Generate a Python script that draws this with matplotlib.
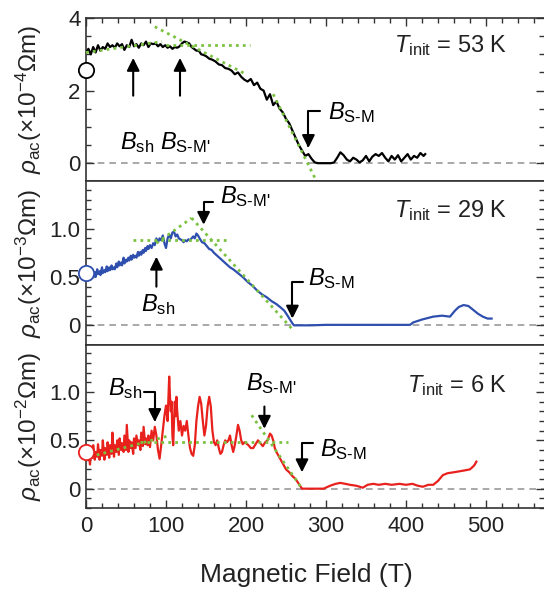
import matplotlib
matplotlib.use("Agg")
import matplotlib.pyplot as plt
from matplotlib.ticker import MultipleLocator

plt.rcParams['font.family'] = ['Liberation Sans', 'DejaVu Sans']
plt.rcParams['mathtext.fontset'] = 'custom'
plt.rcParams['mathtext.rm'] = 'Liberation Sans'
plt.rcParams['mathtext.it'] = 'Liberation Sans:italic'
plt.rcParams['mathtext.bf'] = 'Liberation Sans:bold'

# ---------------- data ----------------
field_53 = [0, 3, 6, 9, 12, 15, 18, 21, 24, 27, 30, 33, 36, 39, 42, 45, 48, 51, 54, 57,
            60, 63, 66, 69, 72, 75, 78, 81, 84, 87, 90, 93, 96, 99, 102, 105, 108, 111, 114, 117,
            120, 123, 126, 129, 132, 135, 138, 141, 144, 147, 150, 154, 158, 162, 166, 170, 174, 178, 182, 186,
            190, 194, 198, 202, 206, 210, 214, 218, 222, 226, 230, 234, 238, 242, 246, 250, 254, 258, 262, 266,
            270, 274, 278, 282, 286, 290, 294, 298, 302, 306, 310, 314, 318, 322, 326, 330, 334, 338, 342, 346,
            350, 354, 358, 362, 366, 370, 374, 378, 382, 386, 390, 394, 398, 402, 406, 410, 414, 418, 422, 424]
rho_53 = [3.05, 3.15, 3.0, 3.2, 3.05, 3.25, 3.1, 3.2, 3.15, 3.3, 3.2, 3.25, 3.18, 3.3, 3.22, 3.28, 3.12, 3.25, 3.2, 3.4,
          3.22, 3.28, 3.18, 3.3, 3.25, 3.35, 3.2, 3.3, 3.28, 3.3, 3.22, 3.28, 3.2, 3.25, 3.18, 3.22, 3.15, 3.2, 3.18, 3.22,
          3.3, 3.35, 3.33, 3.3, 3.2, 3.15, 3.1, 3.1, 3.0, 2.98, 2.95, 2.88, 2.85, 2.8, 2.72, 2.7, 2.62, 2.6, 2.55, 2.45,
          2.5, 2.38, 2.3, 2.25, 2.32, 2.15, 2.22, 2.05, 2.0, 1.75, 1.9, 1.6, 1.7, 1.5, 1.4, 1.22, 1.1, 0.9, 0.7, 0.5,
          0.35, 0.2, 0.25, 0.12, 0.02, 0.0, 0.0, 0.0, 0.0, 0.0, 0.02, 0.15, 0.3, 0.22, 0.1, 0.05, 0.15, 0.1, 0.02, 0.08,
          0.2, 0.05, 0.18, 0.25, 0.2, 0.28, 0.15, 0.05, 0.2, 0.1, 0.22, 0.05, 0.15, 0.25, 0.1, 0.2, 0.15, 0.28, 0.2, 0.25]

field_29 = [0, 2, 3, 5, 6, 8, 9, 11, 12, 14, 15, 17, 18, 20, 21, 23, 24, 26, 27, 29,
            30, 32, 33, 35, 36, 38, 39, 41, 42, 44, 45, 47, 48, 50, 51, 53, 54, 56, 57, 59,
            60, 62, 63, 65, 66, 68, 69, 71, 72, 74, 75, 77, 78, 80, 82, 84, 86, 88, 90, 92,
            94, 96, 98, 100, 102, 104, 106, 108, 110, 112, 114, 116, 118, 120, 122, 124, 126, 128, 130, 132,
            134, 136, 138, 140, 142, 145, 148, 151, 154, 157, 160, 164, 168, 172, 176, 180, 184, 190, 196, 202,
            208, 214, 220, 226, 232, 238, 244, 248, 252, 255, 258, 260, 280, 300, 340, 380, 405, 409, 420, 434,
            445, 455, 461, 466, 472, 478, 484, 490, 496, 502, 507]
rho_29 = [0.52, 0.56, 0.5, 0.55, 0.5, 0.57, 0.52, 0.55, 0.5, 0.58, 0.53, 0.56, 0.52, 0.6, 0.54, 0.57, 0.55, 0.61, 0.56, 0.6,
          0.57, 0.62, 0.58, 0.6, 0.58, 0.64, 0.6, 0.66, 0.62, 0.65, 0.62, 0.7, 0.64, 0.68, 0.66, 0.7, 0.67, 0.72, 0.68, 0.73,
          0.7, 0.72, 0.7, 0.76, 0.72, 0.76, 0.73, 0.78, 0.75, 0.8, 0.77, 0.82, 0.79, 0.83, 0.8, 0.85, 0.83, 0.9, 0.86, 0.9,
          0.88, 0.93, 0.85, 0.8, 0.9, 0.94, 0.9, 0.96, 0.97, 0.92, 0.94, 0.9, 0.89, 0.88, 0.86, 0.88, 0.87, 0.89, 0.88, 0.9,
          0.92, 0.9, 0.95, 0.93, 0.9, 0.86, 0.85, 0.82, 0.79, 0.78, 0.75, 0.72, 0.69, 0.66, 0.63, 0.6, 0.58, 0.54, 0.5, 0.45,
          0.41, 0.36, 0.32, 0.29, 0.25, 0.22, 0.18, 0.15, 0.1, 0.06, 0.02, 0.0, 0.0, 0.005, 0.005, 0.005, 0.005, 0.03, 0.06, 0.09,
          0.1, 0.09, 0.15, 0.19, 0.21, 0.2, 0.16, 0.12, 0.09, 0.07, 0.07]

field_6 = [0, 2, 3, 5, 6, 8, 9, 11, 12, 14, 15, 17, 18, 20, 21, 23, 24, 26, 27, 29,
           30, 32, 33, 35, 36, 38, 39, 41, 42, 44, 45, 47, 48, 50, 51, 53, 54, 56, 57, 59,
           60, 62, 63, 65, 66, 68, 69, 71, 72, 74, 75, 77, 78, 80, 82, 84, 86, 88, 90, 92,
           94, 96, 98, 100, 102, 104, 105, 106, 107, 108, 109, 110, 111, 112, 113, 114, 116, 118, 120, 122,
           124, 126, 128, 130, 132, 134, 136, 138, 140, 142, 144, 146, 148, 150, 152, 154, 156, 158, 160, 162,
           164, 166, 168, 170, 172, 174, 176, 178, 180, 182, 184, 186, 188, 190, 192, 194, 196, 198, 200, 203,
           206, 209, 212, 215, 218, 221, 224, 227, 230, 232, 234, 236, 238, 242, 246, 250, 254, 258, 262, 266,
           270, 280, 297, 305, 312, 318, 324, 330, 338, 346, 352, 359, 366, 374, 382, 392, 400, 408, 415, 421,
           428, 434, 440, 446, 452, 460, 467, 474, 480, 484, 486, 488]
rho_6 = [0.38, 0.3, 0.42, 0.25, 0.4, 0.32, 0.45, 0.3, 0.38, 0.33, 0.46, 0.3, 0.4, 0.34, 0.5, 0.3, 0.42, 0.35, 0.48, 0.32,
         0.45, 0.36, 0.58, 0.33, 0.45, 0.38, 0.5, 0.35, 0.52, 0.4, 0.47, 0.38, 0.55, 0.4, 0.66, 0.38, 0.5, 0.42, 0.48, 0.36,
         0.52, 0.42, 0.55, 0.45, 0.5, 0.4, 0.58, 0.44, 0.64, 0.46, 0.52, 0.45, 0.55, 0.43, 0.6, 0.5, 0.64, 0.55, 0.4, 0.31,
         0.45, 0.6, 0.75, 0.86, 0.7, 1.16, 0.95, 0.8, 0.9, 0.55, 0.45, 0.7, 0.9, 0.75, 0.95, 0.8, 0.6, 0.7, 0.55, 0.65,
         0.6, 0.7, 0.55, 0.42, 0.36, 0.34, 0.45, 0.7, 0.85, 0.95, 0.88, 0.7, 0.55, 0.65, 0.85, 0.95, 0.85, 0.6, 0.48, 0.45,
         0.5, 0.42, 0.36, 0.38, 0.45, 0.5, 0.48, 0.5, 0.55, 0.45, 0.38, 0.45, 0.55, 0.66, 0.6, 0.5, 0.46, 0.48, 0.47, 0.45,
         0.42, 0.42, 0.46, 0.5, 0.47, 0.44, 0.48, 0.5, 0.57, 0.55, 0.5, 0.42, 0.38, 0.32, 0.26, 0.2, 0.17, 0.13, 0.1, 0.05,
         0.0, 0.0, 0.0, 0.03, 0.05, 0.06, 0.05, 0.04, 0.03, 0.01, 0.04, 0.05, 0.04, 0.05, 0.04, 0.05, 0.04, 0.05, 0.03, 0.02,
         0.04, 0.04, 0.08, 0.14, 0.16, 0.17, 0.18, 0.19, 0.2, 0.23, 0.25, 0.28]

# initial values (open circles at B = 0)
rho0 = [2.56, 0.545, 0.38]

# green dotted guide lines: (x0, x1), (y0, y1) for each panel
guides_53 = [((0, 95), (3.05, 3.35)), ((100, 205), (3.25, 3.25)),
             ((86, 200), (3.76, 2.45)), ((234, 286), (1.9, -0.4))]
guides_29 = [((59, 180), (0.88, 0.88)), ((88, 132), (0.85, 1.11)),
             ((132, 259), (1.11, -0.05))]
guides_6 = [((5, 105), (0.33, 0.55)), ((67, 252), (0.48, 0.48)),
            ((207, 270), (0.76, 0.0))]

temps = ['53', '29', '6']
exponents = ['-4', '-3', '-2']
colors = ['black', '#2f4fae', '#e8211d']
green = '#7cc242'

# ---------------- figure ----------------
fig = plt.figure(figsize=(5.44, 5.91), dpi=100)
W, H = 544, 591
left, right = 86 / W, 544 / W
top, bottom = 1 - 18 / H, 1 - 508 / H
ph = (top - bottom) / 3
axes = [fig.add_axes([left, top - (i + 1) * ph, right - left, ph]) for i in range(3)]

fields = [field_53, field_29, field_6]
rhos = [rho_53, rho_29, rho_6]
guides = [guides_53, guides_29, guides_6]
ylims = [(-0.5, 4), (-0.2, 1.49), (-0.2, 1.49)]
tick_fs = 16

for i, ax in enumerate(axes):
    ax.set_xlim(0, 572.5)
    ax.set_ylim(*ylims[i])
    ax.axhline(0, color='#9a9a9a', lw=1.2, ls=(0, (4, 3)), zorder=1)
    ax.plot(fields[i], rhos[i], color=colors[i], lw=1.6, zorder=3)
    for (xs, ys) in guides[i]:
        ax.plot(xs, ys, color=green, lw=2.0, ls=(0, (1, 1.5)), zorder=4,
                clip_on=(i != 0))
    ax.plot([0], [rho0[i]], 'o', ms=11, mfc='white', mec=colors[i], mew=1.3,
            clip_on=False, zorder=6)
    ax.xaxis.set_major_locator(MultipleLocator(100))
    ax.xaxis.set_minor_locator(MultipleLocator(20))
    if i == 0:
        ax.yaxis.set_major_locator(MultipleLocator(2))
        ax.yaxis.set_minor_locator(MultipleLocator(0.5))
        ax.yaxis.set_major_formatter(plt.FuncFormatter(lambda v, p: f'{v:.0f}'))
    else:
        ax.yaxis.set_major_locator(MultipleLocator(0.5))
        ax.yaxis.set_minor_locator(MultipleLocator(0.1))
        ax.yaxis.set_major_formatter(plt.FuncFormatter(
            lambda v, p: '0' if abs(v) < 1e-9 else f'{v:.1f}'))
    ax.tick_params(which='both', direction='in', right=True, left=True,
                   top=(i == 0), bottom=(i == 2), labelbottom=(i == 2),
                   labelsize=tick_fs, colors='#333333', width=1.0)
    ax.tick_params(which='major', length=6, pad=4)
    ax.tick_params(which='minor', length=3.5)
    ax.tick_params(axis='y', labelcolor='#222222')
    ax.tick_params(axis='x', labelcolor='#222222', pad=6)
    for s in ax.spines.values():
        s.set_color('#333333')
        s.set_linewidth(1.2)
    ax.spines['right'].set_visible(False)
    ax.text(-0.124, 0.5, r'$\rho_{\mathrm{ac}}(\times10^{' + exponents[i] + r'}\Omega\mathrm{m})$',
            transform=ax.transAxes, rotation=90, ha='center', va='center',
            fontsize=17.5, color='#222222')
    ax.text(0.92, [0.83, 0.82, 0.75][i], r'$T_{\mathrm{init}}$ = ' + temps[i] + ' K',
            transform=ax.transAxes, ha='right', va='center', fontsize=17,
            color='#222222')

fs_b = 17
arrow = dict(arrowstyle='-|>', color='black', lw=1.5, shrinkA=0, shrinkB=0,
             mutation_scale=19)
bent = dict(arrow, connectionstyle='angle,angleA=0,angleB=90,rad=0')
bsh = r'$B_{\mathrm{sh}}$'
bsmp = r"$B_{\text{S-M'}}$"
bsm = r'$B_{\text{S-M}}$'

# panel 1
a = axes[0]
a.annotate('', xy=(59, 2.9), xytext=(59, 1.86), arrowprops=arrow)
a.annotate('', xy=(117.5, 2.9), xytext=(117.5, 1.86), arrowprops=arrow)
a.text(64, 0.58, bsh, ha='center', va='center', fontsize=fs_b)
a.text(124, 0.58, bsmp, ha='center', va='center', fontsize=fs_b)
a.annotate('', xy=(278, 0.42), xytext=(292, 1.44), arrowprops=bent)
a.text(302, 1.39, bsm, ha='left', va='center', fontsize=fs_b)

# panel 2
a = axes[1]
a.annotate('', xy=(147, 1.04), xytext=(159, 1.28), arrowprops=bent)
a.text(167, 1.33, bsmp, ha='left', va='center', fontsize=fs_b)
a.annotate('', xy=(88, 0.71), xytext=(88, 0.4), arrowprops=arrow)
a.text(90, 0.22, bsh, ha='center', va='center', fontsize=fs_b)
a.annotate('', xy=(258, 0.07), xytext=(271, 0.45), arrowprops=bent)
a.text(277, 0.48, bsm, ha='left', va='center', fontsize=fs_b)

# panel 3
a = axes[2]
a.text(49, 1.04, bsh, ha='center', va='center', fontsize=fs_b)
a.annotate('', xy=(86, 0.69), xytext=(72, 1.0), arrowprops=bent)
a.text(232, 1.09, bsmp, ha='center', va='center', fontsize=fs_b)
a.annotate('', xy=(223, 0.62), xytext=(223, 0.85), arrowprops=arrow)
a.annotate('', xy=(270, 0.17), xytext=(284, 0.47), arrowprops=bent)
a.text(292, 0.4, bsm, ha='left', va='center', fontsize=fs_b)

fig.text(306.7 / W, 1 - 575 / H, 'Magnetic Field (T)', ha='center', va='center',
         fontsize=19, color='#222222')

fig.savefig('out.png', dpi=100)
